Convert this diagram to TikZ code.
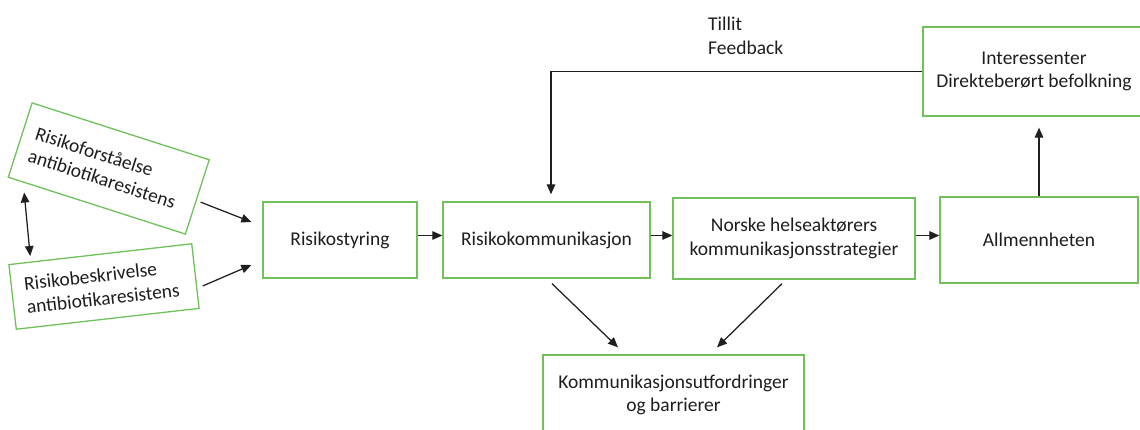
\documentclass[tikz,border=0pt]{standalone}
\usepackage{fontspec}
\setmainfont{Carlito}
\usetikzlibrary{arrows.meta}
\definecolor{boxgreen}{RGB}{112,192,92}
\definecolor{txt}{RGB}{30,30,30}
\begin{document}
\begin{tikzpicture}[x=1pt,y=-1pt,
  box/.style={draw=boxgreen, line width=1.3pt, align=center, text=txt, font=\fontsize{19.5}{23.5}\selectfont, inner sep=0pt},
  lbl/.style={text=txt, font=\fontsize{19.5}{23.5}\selectfont, inner sep=0pt},
  tip/.tip={Triangle[length=10pt,width=8.5pt]},
  arr/.style={-tip, line width=1.25pt, black!88}]
\useasboundingbox (0,0) rectangle (1140,430);
\node[box, minimum width=154pt, minimum height=76pt] (styr) at (340,240) {Risikostyring};
\node[box, minimum width=207pt, minimum height=76pt] (komm) at (546.5,240) {Risikokommunikasjon};
\node[box, minimum width=242pt, minimum height=81pt] (norske) at (794,238.5) {Norske helseaktørers\\kommunikasjonsstrategier};
\node[box, minimum width=198pt, minimum height=86pt] (allm) at (1039,240) {Allmennheten};
\node[box, minimum width=222pt, minimum height=89pt] (inter) at (1034,71.5) {Interessenter\\Direkteberørt befolkning};
\node[box, minimum width=261pt, minimum height=80pt] (utf) at (673.5,395) {Kommunikasjonsutfordringer\\og barrierer};
\node[box, rotate=-17.8, minimum width=186pt, minimum height=78pt, align=left, text width=160pt] (b1) at (108.75,168.5) {Risikoforståelse\\antibiotikaresistens};
\node[box, rotate=6.5, minimum width=184pt, minimum height=65pt, align=left, text width=158pt] (b2) at (104,286.5) {Risikobeskrivelse\\antibiotikaresistens};
\node[lbl, anchor=base west] (tillit) at (708,31) {Tillit};
\node[lbl, anchor=base west] (feedback) at (708,54.5) {Feedback};
\draw[tip-tip, line width=1.25pt, black!88]
  ([shift={(16.7,14.9)}]b1.south west) -- ([shift={(22,-8)}]b2.north west);
\draw[arr] ([shift={(2.7,5)}]b1.east) -- ([shift={(-11,-18)}]styr.west);
\draw[arr] ([shift={(6.6,10)}]b2.east) -- ([shift={(-11,25)}]styr.west);
\draw[arr] ([yshift=4.5pt]styr.east) -- ([yshift=4.5pt]komm.west);
\draw[arr] ([yshift=4.5pt]komm.east) -- ([yshift=4.5pt]komm.east -| norske.west);
\draw[arr] ([yshift=3pt]norske.east) -- ([yshift=3pt]norske.east -| allm.west);
\draw[arr] (allm.north) -- ([yshift=-11pt]inter.south -| allm.north);
\draw[arr] (inter.west) -| ([xshift=4.5pt,yshift=7pt]komm.north);
\draw[arr] ([shift={(5.5,5)}]komm.south) -- ([shift={(-55.5,-7)}]utf.north);
\draw[arr] ([shift={(-12,4)}]norske.south) -- ([shift={(43.5,-7)}]utf.north);
\end{tikzpicture}
\end{document}
